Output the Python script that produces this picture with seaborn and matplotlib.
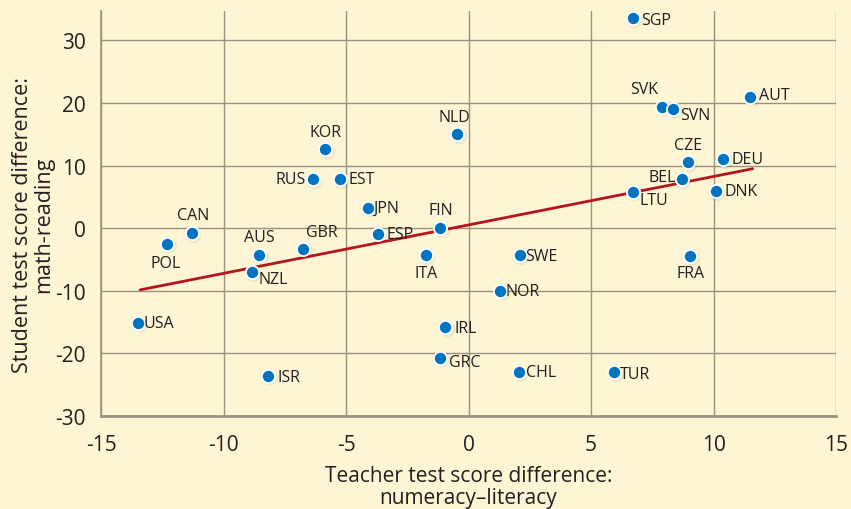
import numpy as np
import pandas as pd
import matplotlib
matplotlib.use("Agg")
import matplotlib.pyplot as plt
import seaborn as sns

# data
countries = ["SGP", "SVK", "SVN", "AUT", "NLD", "CZE", "DEU", "BEL", "DNK", "LTU",
             "FIN", "KOR", "RUS", "EST", "JPN", "ESP", "CAN", "POL", "AUS", "GBR",
             "NZL", "USA", "ISR", "ITA", "SWE", "FRA", "NOR", "IRL", "GRC", "CHL", "TUR"]
teacher_diff = [6.7, 7.9, 8.35, 11.5, -0.45, 8.95, 10.4, 8.7, 10.1, 6.7,
                -1.15, -5.85, -6.35, -5.25, -4.1, -3.7, -11.3, -12.3, -8.55, -6.75,
                -8.85, -13.5, -8.2, -1.75, 2.1, 9.05, 1.3, -0.95, -1.15, 2.05, 5.95]
student_diff = [33.5, 19.4, 19.0, 21.0, 15.0, 10.5, 11.0, 7.8, 5.9, 5.8,
                0.0, 12.6, 7.8, 7.8, 3.3, -1.0, -0.8, -2.5, -4.3, -3.4,
                -7.0, -15.1, -23.6, -4.3, -4.3, -4.4, -10.0, -15.8, -20.7, -23.0, -23.0]

# fitted trend line end points
trend_x = [-13.4, 11.6]
trend_y = [-9.85, 9.5]

df = pd.DataFrame({"country": countries, "teacher": teacher_diff, "student": student_diff})
trend = pd.DataFrame({"x": trend_x, "y": trend_y})

# label placement (offset in points, alignment)
label_pos = {
    "SGP": (6, -1, "left", "center"), "SVK": (-3, 7, "right", "bottom"),
    "SVN": (5, -4, "left", "center"), "AUT": (6, 1, "left", "center"),
    "NLD": (-2, 7, "center", "bottom"), "CZE": (0, 7, "center", "bottom"),
    "DEU": (6, 0, "left", "center"), "BEL": (-4, 2, "right", "center"),
    "DNK": (6, 0, "left", "center"), "LTU": (5, -6, "left", "center"),
    "FIN": (0, 7, "center", "bottom"), "KOR": (0, 7, "center", "bottom"),
    "RUS": (-5, 0, "right", "center"), "EST": (6, 0, "left", "center"),
    "JPN": (4, -0.5, "left", "center"), "ESP": (6, 0.5, "left", "center"),
    "CAN": (1, 7, "center", "bottom"), "POL": (-1, -8, "center", "top"),
    "AUS": (0, 7, "center", "bottom"), "GBR": (2, 7, "left", "bottom"),
    "NZL": (5, -5, "left", "center"), "USA": (4, -0.5, "left", "center"),
    "ISR": (7, -0.5, "left", "center"), "ITA": (0, -7, "center", "top"),
    "SWE": (4, -0.5, "left", "center"), "FRA": (0, -7, "center", "top"),
    "NOR": (4, -0.5, "left", "center"), "IRL": (7, -0.5, "left", "center"),
    "GRC": (6, -3, "left", "center"), "CHL": (5, 0, "left", "center"),
    "TUR": (4, -1, "left", "center"),
}

bg = "#FEF5D4"
grid_col = "#9A9180"
text_col = "#231F20"

sns.set_style("white", {"axes.facecolor": bg, "figure.facecolor": bg})
plt.rcParams["font.family"] = ["Open Sans", "DejaVu Sans"]
plt.rcParams["axes.unicode_minus"] = False

fig = plt.figure(figsize=(8.51, 5.10), dpi=100)
ax = fig.add_axes([0.1187, 0.1824, 0.8637, 0.7941])

# subtle shadow under the dots
ax.scatter(np.array(teacher_diff) + 0.06, np.array(student_diff) - 0.25, s=130,
           color="#000000", alpha=0.05, linewidths=0, zorder=2)

sns.lineplot(data=trend, x="x", y="y", color="#B3151B", linewidth=2, ax=ax, zorder=3)
sns.scatterplot(data=df, x="teacher", y="student", s=90, color="#0074C1",
                edgecolor="white", linewidth=1.3, ax=ax, zorder=4)

for _, r in df.iterrows():
    dx, dy, ha, va = label_pos[r["country"]]
    ax.annotate(r["country"], (r["teacher"], r["student"]), xytext=(dx, dy),
                textcoords="offset points", ha=ha, va=va, fontsize=11.5,
                color=text_col, zorder=5)

ax.set_xlim(-15, 15)
ax.set_ylim(-30, 34.7)
ax.set_xticks([-15, -10, -5, 0, 5, 10, 15])
ax.set_yticks([-30, -20, -10, 0, 10, 20, 30])
ax.grid(True, color=grid_col, linewidth=1)
ax.set_axisbelow(True)

for side in ["top", "right"]:
    ax.spines[side].set_visible(False)
ax.spines["left"].set_color(grid_col)
ax.spines["left"].set_linewidth(1.2)
ax.spines["bottom"].set_color(grid_col)
ax.spines["bottom"].set_linewidth(2)

ax.tick_params(axis="both", length=8, width=1, color=grid_col, labelsize=15,
               labelcolor=text_col, direction="out", pad=3)
ax.tick_params(axis="x", pad=5)

ax.set_xlabel("Teacher test score difference:\nnumeracy\u2013literacy",
              fontsize=15, color=text_col, linespacing=1.05, labelpad=7)
ax.set_ylabel("Student test score difference:\nmath-reading",
              fontsize=15.5, color=text_col, linespacing=1.0)
ax.yaxis.set_label_coords(-0.064, 0.475)

fig.savefig("out.png", dpi=100, facecolor=bg)
